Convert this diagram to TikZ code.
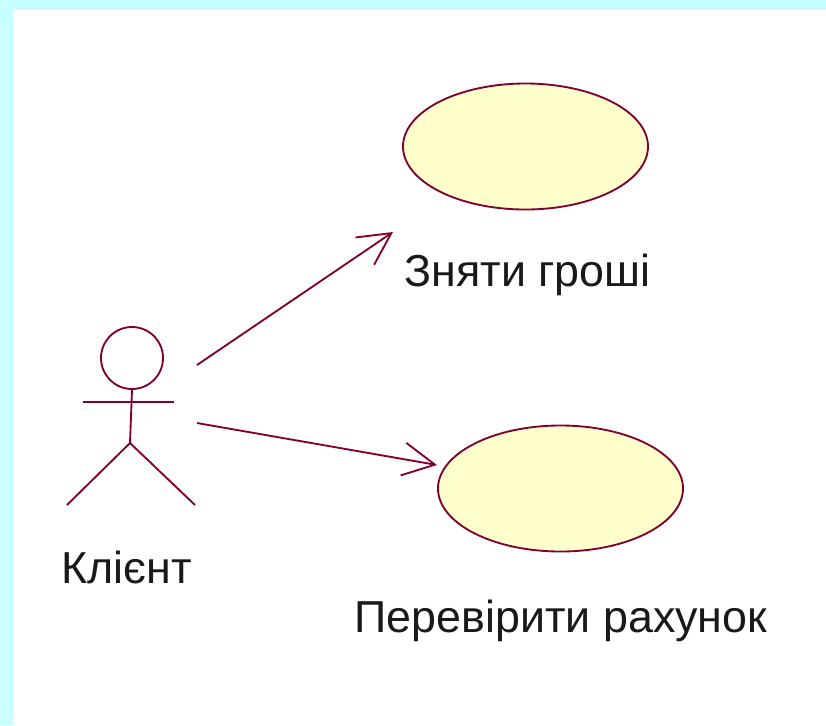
\documentclass[tikz,border=0pt]{standalone}
\usepackage{fontspec}
\setmainfont{Liberation Sans}
\usetikzlibrary{arrows.meta,shapes.geometric}
\definecolor{umlline}{RGB}{128,0,48}
\definecolor{ucfill}{RGB}{255,255,204}
\definecolor{frame}{RGB}{200,255,255}
\begin{document}
\begin{tikzpicture}[x=0.02cm,y=-0.02cm,
  umlstroke/.style={draw=umlline,line width=1.05pt},
  usecase/.style={umlstroke,fill=ucfill,ellipse,minimum width=245*0.02cm,minimum height=126*0.02cm,inner sep=0pt},
  label/.style={font=\fontsize{25.5}{30}\selectfont,text=black!90,anchor=base,inner sep=0pt},
  assoc/.style={umlstroke,-{Straight Barb[length=0.64cm,width=0.66cm,line width=1.05pt]}}]
  % page with a cyan margin on the left and top
  \fill[frame] (0,0) rectangle (826,725);
  \fill[white] (13,10) rectangle (826,725);
  \useasboundingbox (0,0) rectangle (826,725);

  % use cases
  \node[usecase] (uc1) at (525.5,146.5) {};
  \node[usecase] (uc2) at (560.5,488.5) {};
  \node[label] (uc1text) at (527.5,286) {Зняти гроші};
  \node[label] (uc2text) at (561,632) {Перевірити рахунок};

  % actor
  \node[umlstroke,circle,minimum size=62*0.02cm,inner sep=0pt] (head) at (132,358) {};
  \coordinate (armL) at (83,402);
  \coordinate (armR) at (174,402);
  \coordinate (hip) at (130,443);
  \coordinate (footL) at (67,505);
  \coordinate (footR) at (195,505);
  \draw[umlstroke] (head.south) -- (hip);
  \draw[umlstroke] (armL) -- (armR);
  \draw[umlstroke] (footL) -- (hip) -- (footR);
  \node[label] (actortext) at (126.5,583) {Клієнт};

  % associations
  \coordinate (from1) at (197,365);
  \coordinate (to1) at (393,232);
  \coordinate (from2) at (197,423);
  \coordinate (to2) at (437,465);
  \draw[assoc] (from1) -- (to1);
  \draw[assoc] (from2) -- (to2);
\end{tikzpicture}
\end{document}
